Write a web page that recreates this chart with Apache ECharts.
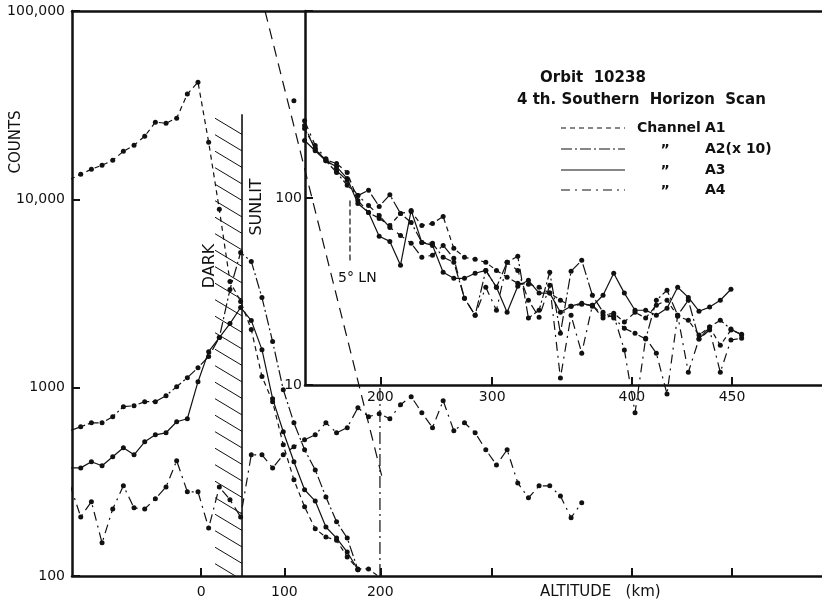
<!DOCTYPE html>
<html>
<head>
<meta charset="utf-8">
<script src="https://cdn.jsdelivr.net/npm/echarts@6/dist/echarts.min.js"></script>
<style>
  html, body { margin: 0; padding: 0; background: #fff; }
  #chart { width: 822px; height: 605px; }
</style>
</head>
<body>
<div id="chart"></div>
<script>
// x axis = scan read-out number (evenly spaced in time), labelled by tangent altitude
const altLabels = [0, 100, 200, 300, 400, 450];
const altSamples = [0.3, 8.1, 17.1, 27.6, 40.7, 50.1];
const sampleMin = -11.82;
const sampleMax = 58.54;
const insetSampleMin = 10.04;

// main panel, counts, first read-out at sample -12
const mainStart = -12;
const a1Main = [12770, 13580, 14450, 15170, 16110, 17990, 19370, 21630, 25690, 25360, 26980, 36200, 41900,
  20100, 8850, 3660, 2870, 2035, 1145, 843, 497, 324, 233, 178, 161, 155, 126, 109, 109, 99];
const a2Main = [590, 620, 651, 651, 701, 793, 802, 843, 843, 907, 1012, 1130, 1277, 1462, 1845, 3320, 5220,
  4680, 3010, 1757, 976, 651, 468, 366, 263, 194, 159, 108];
const a3Main = [375, 375, 404, 385, 430, 480, 440, 516, 562, 576, 659, 684, 1076, 1553, 1845, 2190, 2665,
  2270, 1592, 874, 583, 404, 287, 250, 182, 159, 134, 108];
const a4Main = [305, 206, 248, 150, 227, 301, 230, 227, 257, 297, 409, 280, 280, 180, 297, 254, 206, 440, 440,
  375, 440, 486, 529, 562, 651, 576, 613, 783, 701, 727, 684, 812, 896, 736, 613, 853, 590, 651, 576, 468,
  389, 468, 312, 260, 301, 301, 266, 204, 245];

// inset, expanded scale
const insetA1Start = 10;
const a1Inset = [244, 181, 160, 153, 137, 97, 83.7, 77.8, 71.3, 82.7, 84.7, 71.3, 73.1, 79.6, 53.8, 48.2, 47.0,
  45.3, 41.0, 37.7, 35.0, 34.6, 33.3, 31.0, 28.4, 26.4, 27.0, 26.7, 23.6, 24.2, 21.7, 24.5, 22.8, 26.7, 28.4,
  23.3, 22.2, 18.5, 20.4, 16.3, 19.7, 18.7];
const insetA2Start = 9;
const a2Inset = [331, 235, 184, 158, 137, 117, 103, 110, 90.1, 104, 82.7, 73.9, 57.9, 57.2, 48.2, 45.3, 29.1,
  23.6, 41.0, 33.3, 45.3, 48.8, 22.8, 25.1, 40.1, 18.9, 40.6, 46.4, 30.2, 24.5, 22.8, 20.1, 18.9, 17.6, 28.4,
  32.1, 23.6, 28.4, 17.6, 20.4, 22.2, 19.9, 18.5];
const insetA3Start = 10;
const a3Inset = [203, 179, 158, 147, 127, 93.5, 83.7, 62.4, 58.6, 43.7, 85.8, 57.9, 55.8, 40.1, 37.2, 37.2, 39.6,
  41.0, 33.3, 24.5, 33.7, 36.3, 31.0, 31.0, 24.5, 26.4, 27.4, 26.4, 30.2, 39.6, 31.0, 25.1, 25.1, 23.6, 25.7,
  33.3, 29.4, 24.8, 26.1, 28.4, 32.5];
const insetA4Start = 10;
const a4Inset = [259, 191, 162, 140, 124, 103, 91.2, 80.7, 69.6, 63.1, 57.2, 48.2, 49.4, 55.8, 47.6, 29.1, 23.6,
  33.3, 25.1, 45.3, 41.0, 28.4, 23.0, 34.1, 10.9, 23.6, 14.8, 26.7, 22.8, 23.6, 15.4, 7.1, 17.8, 14.8, 8.95,
  23.6, 11.7, 17.6, 19.7, 11.7, 17.4, 17.8];

// guide lines
const steepA1 = [[6.29, 100000], [17.26, 336]];
const cutoff200 = [[17.07, 100], [17.07, 1000]];
const terminator = [[4.13, 28300], [4.13, 100]];
const darkBand = [1.6, 4.13, 28300];
const fiveDegLN = [[14.26, 97], [14.26, 45.3]];

const INK = '#111';
const FONT = 'DejaVu Sans';
const DASH_A1 = [5, 4];
const DASH_A2 = [11, 3, 2, 3];
const DASH_A4 = [9, 5, 2, 5];

const pts = (start, vals) => vals.map((v, i) => [start + i, v]);

function scanLine(data, dash, inset) {
  return {
    type: 'line',
    data: data,
    xAxisIndex: inset ? 2 : 0,
    yAxisIndex: inset ? 1 : 0,
    symbol: 'circle',
    symbolSize: 5,
    itemStyle: { color: INK },
    lineStyle: { color: INK, width: 1.2, type: dash },
    clip: !inset,
    silent: true
  };
}
function guide(data, dash, inset, width) {
  return {
    type: 'line',
    data: data,
    xAxisIndex: inset ? 2 : 0,
    yAxisIndex: inset ? 1 : 0,
    symbol: 'none',
    lineStyle: { color: INK, width: width || 1.2, type: dash },
    clip: false,
    silent: true
  };
}

function altFormatter(v) {
  let best = 0;
  altSamples.forEach((s, i) => {
    if (Math.abs(s - v) < Math.abs(altSamples[best] - v)) best = i;
  });
  return String(altLabels[best]);
}
function countFormatter(v) {
  return v >= 10000 ? v.toLocaleString('en-US') : String(v);
}

const axisLine = { onZero: false, lineStyle: { color: INK, width: 2.5 } };
const labelStyle = { color: INK, fontFamily: FONT, fontSize: 14 };

const chart = echarts.init(document.getElementById('chart'), null, { renderer: 'canvas' });
chart.setOption({
  animation: false,
  backgroundColor: '#fff',
  grid: [
    { left: 72, right: 0, top: 11, bottom: 29 },
    { left: 305, right: 0, top: 11, bottom: 220 }
  ],
  xAxis: [
    {
      gridIndex: 0, type: 'value', min: sampleMin, max: sampleMax,
      axisLine: axisLine,
      axisTick: { inside: true, length: 8, lineStyle: { color: INK, width: 2 }, customValues: altSamples },
      axisLabel: Object.assign({ margin: 9, customValues: altSamples.slice(0, 3), formatter: altFormatter }, labelStyle),
      splitLine: { show: false }
    },
    {
      gridIndex: 0, type: 'value', position: 'top', min: sampleMin, max: sampleMax,
      axisLine: axisLine, axisTick: { show: false }, axisLabel: { show: false }, splitLine: { show: false }
    },
    {
      gridIndex: 1, type: 'value', min: insetSampleMin, max: sampleMax,
      axisLine: axisLine,
      axisTick: { inside: true, length: 8, lineStyle: { color: INK, width: 2 }, customValues: altSamples.slice(2) },
      axisLabel: Object.assign({ margin: 5, customValues: altSamples.slice(2), formatter: altFormatter }, labelStyle),
      splitLine: { show: false }
    }
  ],
  yAxis: [
    {
      gridIndex: 0, type: 'log', logBase: 10, min: 100, max: 100000,
      axisLine: axisLine,
      axisTick: { inside: true, length: 8, lineStyle: { color: INK, width: 2 } },
      minorTick: { show: false },
      axisLabel: Object.assign({ margin: 7, formatter: countFormatter }, labelStyle),
      splitLine: { show: false }
    },
    {
      gridIndex: 1, type: 'log', logBase: 10, min: 10, max: 1000,
      axisLine: axisLine,
      axisTick: { inside: true, length: 8, lineStyle: { color: INK, width: 2 } },
      axisLabel: Object.assign({ margin: 3, formatter: v => (v >= 1000 ? '' : String(v)) }, labelStyle),
      splitLine: { show: false }
    }
  ],
  series: [
    {
      type: 'custom',
      xAxisIndex: 0, yAxisIndex: 0,
      data: [darkBand],
      silent: true,
      clip: false,
      renderItem(params, api) {
        const tl = api.coord([api.value(0), api.value(2)]);
        const br = api.coord([api.value(1), 100]);
        const w = br[0] - tl[0];
        const slope = 0.6;
        const children = [];
        for (let y = tl[1] + 4; y < br[1]; y += 16.5) {
          let x2 = br[0];
          let y2 = y + w * slope;
          if (y2 > br[1]) {
            y2 = br[1];
            x2 = tl[0] + (br[1] - y) / slope;
          }
          children.push({
            type: 'line',
            shape: { x1: tl[0], y1: y, x2: x2, y2: y2 },
            style: { stroke: INK, lineWidth: 1 }
          });
        }
        return { type: 'group', children: children };
      }
    },
    guide(terminator, 'solid', false, 1.6),
    guide(steepA1, [11, 7], false),
    guide(cutoff200, [12, 4, 2, 4], false),
    guide(fiveDegLN, [6, 3], true),
    scanLine(pts(mainStart, a1Main), DASH_A1, false),
    scanLine(pts(mainStart, a2Main), DASH_A2, false),
    scanLine(pts(mainStart, a3Main), 'solid', false),
    scanLine(pts(mainStart, a4Main), DASH_A4, false),
    scanLine(pts(insetA1Start, a1Inset), DASH_A1, true),
    scanLine(pts(insetA2Start, a2Inset), DASH_A2, true),
    scanLine(pts(insetA3Start, a3Inset), 'solid', true),
    scanLine(pts(insetA4Start, a4Inset), DASH_A4, true)
  ],
  graphic: [
    { type: 'text', x: 16, y: 142, rotation: Math.PI / 2,
      style: { text: 'COUNTS', font: '15px "DejaVu Sans"', fill: INK, align: 'center', verticalAlign: 'middle' } },
    { type: 'text', x: 540, y: 592,
      style: { text: 'ALTITUDE   (km)', font: '15px "DejaVu Sans"', fill: INK, align: 'left', verticalAlign: 'middle' } },
    { type: 'text', x: 210, y: 266, rotation: Math.PI / 2,
      style: { text: 'DARK', font: '16px "DejaVu Sans"', fill: INK, align: 'center', verticalAlign: 'middle' } },
    { type: 'text', x: 257, y: 207, rotation: Math.PI / 2,
      style: { text: 'SUNLIT', font: '16px "DejaVu Sans"', fill: INK, align: 'center', verticalAlign: 'middle' } },
    { type: 'text', x: 338, y: 278,
      style: { text: '5° LN', font: '14px "DejaVu Sans"', fill: INK, align: 'left', verticalAlign: 'middle' } },
    { type: 'text', x: 540, y: 78,
      style: { text: 'Orbit  10238', font: 'bold 15px "DejaVu Sans"', fill: INK, align: 'left', verticalAlign: 'middle' } },
    { type: 'text', x: 517, y: 100,
      style: { text: '4 th. Southern  Horizon  Scan', font: 'bold 15px "DejaVu Sans"', fill: INK, align: 'left', verticalAlign: 'middle' } },
    { type: 'line', shape: { x1: 561, y1: 128, x2: 625, y2: 128 }, style: { stroke: INK, lineWidth: 1.2, lineDash: DASH_A1 } },
    { type: 'line', shape: { x1: 561, y1: 149, x2: 625, y2: 149 }, style: { stroke: INK, lineWidth: 1.2, lineDash: DASH_A2 } },
    { type: 'line', shape: { x1: 561, y1: 170, x2: 625, y2: 170 }, style: { stroke: INK, lineWidth: 1.2 } },
    { type: 'line', shape: { x1: 561, y1: 190, x2: 625, y2: 190 }, style: { stroke: INK, lineWidth: 1.2, lineDash: DASH_A4 } },
    { type: 'text', x: 637, y: 128,
      style: { text: 'Channel', font: 'bold 14px "DejaVu Sans"', fill: INK, align: 'left', verticalAlign: 'middle' } },
    { type: 'text', x: 705, y: 128,
      style: { text: 'A1', font: 'bold 14px "DejaVu Sans"', fill: INK, align: 'left', verticalAlign: 'middle' } },
    { type: 'text', x: 665, y: 150,
      style: { text: '\u201D', font: 'bold 14px "DejaVu Sans"', fill: INK, align: 'center', verticalAlign: 'middle' } },
    { type: 'text', x: 705, y: 149,
      style: { text: 'A2(x 10)', font: 'bold 14px "DejaVu Sans"', fill: INK, align: 'left', verticalAlign: 'middle' } },
    { type: 'text', x: 665, y: 171,
      style: { text: '\u201D', font: 'bold 14px "DejaVu Sans"', fill: INK, align: 'center', verticalAlign: 'middle' } },
    { type: 'text', x: 705, y: 170,
      style: { text: 'A3', font: 'bold 14px "DejaVu Sans"', fill: INK, align: 'left', verticalAlign: 'middle' } },
    { type: 'text', x: 665, y: 191,
      style: { text: '\u201D', font: 'bold 14px "DejaVu Sans"', fill: INK, align: 'center', verticalAlign: 'middle' } },
    { type: 'text', x: 705, y: 190,
      style: { text: 'A4', font: 'bold 14px "DejaVu Sans"', fill: INK, align: 'left', verticalAlign: 'middle' } }
  ]
});
</script>
</body>
</html>
